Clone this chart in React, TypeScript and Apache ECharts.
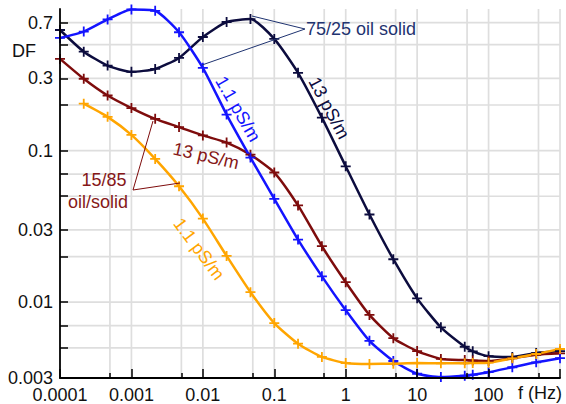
import React, { useEffect, useRef } from "react";
import * as echarts from "echarts";

// Frequencies (Hz), three points per decade plus 60 Hz
const FREQ = [0.0001, 0.000215, 0.000464, 0.001, 0.00215, 0.00464, 0.01, 0.0215, 0.0464, 0.1, 0.215, 0.464, 1, 2.15, 4.64, 10, 21.5, 46.4, 60, 100, 215, 464, 1000];

// 75/25 oil/solid, 13 pS/m (navy)
const DF_7525_13 = [0.625, 0.45, 0.364, 0.331, 0.346, 0.409, 0.562, 0.706, 0.738, 0.546, 0.326, 0.165, 0.0788, 0.0379, 0.0192, 0.0106, 0.00682, 0.00508, 0.00474, 0.0044, 0.00435, 0.00462, 0.00476];
// 75/25 oil/solid, 1.1 pS/m (blue)
const DF_7525_11 = [0.554, 0.61, 0.734, 0.855, 0.837, 0.604, 0.352, 0.173, 0.09, 0.0481, 0.0259, 0.0148, 0.00886, 0.00556, 0.00409, 0.00337, 0.00321, 0.00327, 0.00332, 0.00345, 0.00372, 0.00401, 0.00427];
// 15/85 oil/solid, 13 pS/m (dark red)
const DF_1585_13 = [0.403, 0.298, 0.231, 0.191, 0.162, 0.143, 0.126, 0.113, 0.094, 0.0717, 0.0435, 0.0234, 0.01355, 0.00824, 0.00579, 0.00476, 0.00422, 0.00415, 0.00412, 0.00409, 0.00426, 0.0045, 0.0046];
// 15/85 oil/solid, 1.1 pS/m (orange)
const DF_1585_11 = [null, 0.204, 0.167, 0.127, 0.0882, 0.0582, 0.0356, 0.0202, 0.01164, 0.00728, 0.00532, 0.00435, 0.00397, 0.00391, 0.00393, 0.00397, 0.00395, 0.00395, 0.00397, 0.00399, 0.00426, 0.00455, 0.00491];

// Axis ticks / labels / grid lines
const X_MIN = 0.0001;
const X_MAX = 1000;
const X_MAJOR = [0.0001, 0.001, 0.01, 0.1, 1, 10, 100, 1000];
const X_MINOR = [0.0005, 0.005, 0.05, 0.5, 5, 50, 500];
const X_LABEL_VALUES = [0.0001, 0.001, 0.01, 0.1, 1, 10, 100];
const X_LABELS = ["0.0001", "0.001", "0.01", "0.1", "1", "10", "100"];
const Y_MIN = 0.00316;
const Y_MAX = 0.86;
const Y_GRID = [0.005, 0.007, 0.01, 0.02, 0.03, 0.05, 0.07, 0.1, 0.2, 0.3, 0.5, 0.7];
const Y_LABEL_VALUES = [0.00316, 0.01, 0.03, 0.1, 0.3, 0.7];
const Y_LABELS = ["0.003", "0.01", "0.03", "0.1", "0.3", "0.7"];

const FONT = '"Liberation Sans", Arial, Helvetica, sans-serif';
const PLUS = "path://M0,4.1H10V5.9H0Z M4.1,0H5.9V10H4.1Z";

export default function App() {
  const ref = useRef<HTMLDivElement>(null);
  useEffect(() => {
    const chart = echarts.init(ref.current!, null, { renderer: "svg" });
    const lg = Math.log10;
    const mk = (vals: (number | null)[]) =>
      FREQ.map((f, i) => (vals[i] == null ? null : [lg(f), lg(vals[i] as number)])).filter((d) => d !== null);
    const labelFor = (v: number, vals: number[], labels: string[]) => {
      for (let i = 0; i < vals.length; i++) if (Math.abs(lg(vals[i]) - v) < 1e-6) return labels[i];
      return "";
    };
    const mkSeries = (name: string, vals: (number | null)[], color: string) => ({
      name,
      type: "line",
      data: mk(vals),
      smooth: 0.2,
      clip: false,
      z: 3,
      symbol: PLUS,
      symbolSize: 10,
      showSymbol: true,
      lineStyle: { color, width: 2.5 },
      itemStyle: { color, borderWidth: 0 },
    });
    const txt = (text: string, x: number, y: number, color: string, rotDeg = 0, align = "center") => ({
      type: "text",
      x,
      y,
      z: 10,
      rotation: (rotDeg * Math.PI) / 180,
      style: { text, fill: color, font: `18px ${FONT}`, align, verticalAlign: "middle" },
    });
    const ln = (x1: number, y1: number, x2: number, y2: number, color: string) => ({
      type: "line",
      z: 10,
      shape: { x1, y1, x2, y2 },
      style: { stroke: color, lineWidth: 1 },
    });
    const navy = "#0c0c3e";
    const navyText = "#1f3370";
    const red = "#7e0c0c";
    const redText = "#861818";
    const blue = "#1414ff";
    const orange = "#ffa500";
    const gridColor = "#dedede";
    const yLo = lg(Y_MIN);
    const yHi = lg(Y_MAX);
    const xLo = lg(X_MIN);
    const xHi = lg(X_MAX);
    const gridSeries = (vertical: boolean) => ({
      type: "custom",
      coordinateSystem: "cartesian2d",
      z: 1,
      silent: true,
      clip: false,
      encode: { x: 0, y: 1 },
      data: vertical
        ? X_MAJOR.slice(1).concat(X_MINOR).map((v) => [lg(v), yLo])
        : Y_GRID.map((v) => [xLo, lg(v)]),
      renderItem: (_p: any, api: any) => {
        const a = vertical ? api.coord([api.value(0), yLo]) : api.coord([xLo, api.value(1)]);
        const b = vertical ? api.coord([api.value(0), yHi]) : api.coord([xHi, api.value(1)]);
        return {
          type: "line",
          shape: { x1: a[0], y1: a[1], x2: b[0], y2: b[1] },
          style: { stroke: gridColor, lineWidth: 1.7 },
        };
      },
    });
    chart.setOption({
      animation: false,
      backgroundColor: "#ffffff",
      grid: { left: 60, right: 6, top: 9, bottom: 25 },
      xAxis: [
        {
          type: "value",
          position: "bottom",
          min: xLo,
          max: xHi,
          z: 5,
          axisLine: { show: true, onZero: false, lineStyle: { color: "#000", width: 1.8 } },
          axisTick: { show: true, inside: true, length: 9, customValues: X_MAJOR.map(lg), lineStyle: { color: "#000", width: 1.5 } },
          axisLabel: {
            customValues: X_LABEL_VALUES.map(lg),
            formatter: (v: number) => labelFor(v, X_LABEL_VALUES, X_LABELS),
            color: "#111",
            fontSize: 18,
            fontFamily: FONT,
            margin: 8,
          },
          splitLine: { show: false },
        },
        {
          type: "value",
          position: "bottom",
          min: xLo,
          max: xHi,
          z: 5,
          axisLine: { show: false, onZero: false },
          axisTick: { show: true, inside: true, length: 5, customValues: X_MINOR.map(lg), lineStyle: { color: "#000", width: 1.5 } },
          axisLabel: { show: false },
          splitLine: { show: false },
        },
      ],
      yAxis: {
        type: "value",
        min: yLo,
        max: yHi,
        z: 5,
        axisLine: { show: true, onZero: false, lineStyle: { color: "#000", width: 1.8 } },
        axisTick: { show: true, inside: true, length: 8, customValues: Y_GRID.map(lg), lineStyle: { color: "#000", width: 1.5 } },
        axisLabel: {
          customValues: Y_LABEL_VALUES.map(lg),
          formatter: (v: number) => labelFor(v, Y_LABEL_VALUES, Y_LABELS),
          color: "#111",
          fontSize: 18,
          fontFamily: FONT,
          margin: 7,
        },
        splitLine: { show: false },
      },
      series: [
        gridSeries(true),
        gridSeries(false),
        mkSeries("75/25 13 pS/m", DF_7525_13, navy),
        mkSeries("15/85 13 pS/m", DF_1585_13, red),
        mkSeries("75/25 1.1 pS/m", DF_7525_11, blue),
        mkSeries("15/85 1.1 pS/m", DF_1585_11, orange),
      ],
      graphic: [
        txt("DF", 24, 51, "#111"),
        txt("f (Hz)", 562, 393, "#111", 0, "right"),
        ln(305, 29, 252, 16, navyText),
        ln(305, 29, 202, 65, navyText),
        txt("75/25 oil solid", 306, 29, navyText, 0, "left"),
        ln(133, 190, 153, 121, red),
        ln(133, 190, 180, 183, red),
        txt("15/85", 104, 180, redText),
        txt("oil/solid", 98, 202, redText),
        txt("13 pS/m", 206, 156, redText, -13),
        txt("1.1 pS/m", 238, 109, blue, -60),
        txt("13 pS/m", 329, 108, navy, -62),
        txt("1.1 pS/m", 199, 249, orange, -53),
      ],
    });
    return () => chart.dispose();
  }, []);
  return <div ref={ref} style={{ position: "fixed", left: 0, top: 0, width: 566, height: 404 }} />;
}
